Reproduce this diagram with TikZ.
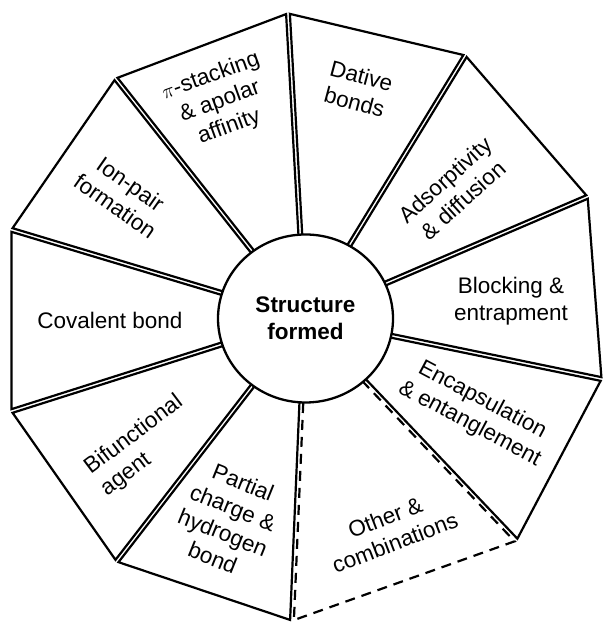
\documentclass[tikz,border=0pt]{standalone}
\usepackage{fontspec}
\setmainfont{Liberation Sans}
\usetikzlibrary{calc,shapes.geometric}
\begin{document}
\begin{tikzpicture}[x=1pt,y=1pt,
  wedge/.style={draw=black, line width=2.2pt, line join=miter},
  otherwedge/.style={wedge, dash pattern=on 10pt off 7pt},
  lbl/.style={font=\fontsize{22.5}{27}\selectfont, align=center, inner sep=0pt},
  core/.style={ellipse, draw, line width=2.3pt, fill=white, minimum width=175pt,
    minimum height=168pt, inner sep=0pt, font=\bfseries\fontsize{22.5}{27}\selectfont, align=center}]
\useasboundingbox (0,0) rectangle (603,623);
\def\gap{1.9pt}
\coordinate (C) at (305,305);
\coordinate (B0) at (516,83);
\coordinate (B1) at (601,244);
\coordinate (B2) at (587,426);
\coordinate (B3) at (465,567);
\coordinate (B4) at (288,609);
\coordinate (B5) at (116,544);
\coordinate (B6) at (12,393);
\coordinate (B7) at (12,212);
\coordinate (B8) at (117,62);
\coordinate (B9) at (292,3);
% solid wedges
\foreach \a/\b in {B0/B1,B1/B2,B2/B3,B3/B4,B4/B5,B5/B6,B6/B7,B7/B8,B8/B9}{
  \draw[wedge] ($(C)!\gap!90:(\a)$) -- ($(\a)!\gap!-90:(C)$) -- ($(\b)!\gap!90:(C)$) -- ($(C)!\gap!-90:(\b)$) -- cycle;
}
% dashed wedge
\draw[otherwedge] ($(C)!\gap!90:(B9)$) -- ($(B9)!\gap!-90:(C)$) -- ($(B0)!\gap!90:(C)$) -- ($(C)!\gap!-90:(B0)$) -- cycle;
% labels
\node[lbl, rotate=-28] (encap) at (476,211) {Encapsulation\\\& entanglement};
\node[lbl] (block) at (511,322) {Blocking \&\\entrapment};
\node[lbl, rotate=42] (adsorp) at (454,433) {Adsorptivity\\\& diffusion};
\node[lbl, rotate=-15] (dative) at (358,534) {Dative\\bonds};
\node[lbl, rotate=20] (pistack) at (220,521) {$\pi$-stacking\\\& apolar\\affinity};
\node[lbl, rotate=-35] (ionpair) at (123,428) {Ion-pair\\formation};
\node[lbl] (covalent) at (110,303) {Covalent bond};
\node[lbl, rotate=37, align=left] (bifunc) at (142,177) {Bifunctional\\agent};
\node[lbl, rotate=-22] (partial) at (228,103) {Partial\\charge \&\\hydrogen\\bond};
\node[lbl, rotate=21] (other) at (390,93) {Other \&\\combinations};
\node[core] (centre) at (305.5,304.5) {Structure\\formed};
\end{tikzpicture}
\end{document}
